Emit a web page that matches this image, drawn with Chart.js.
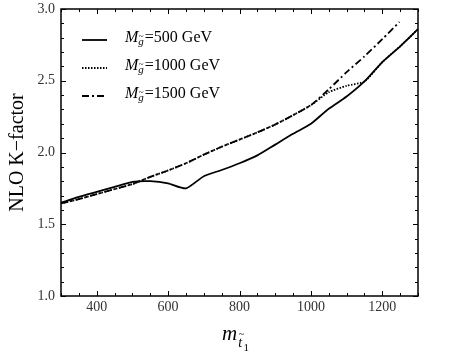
<!DOCTYPE html>
<html><head><meta charset="utf-8">
<script src="https://cdn.jsdelivr.net/npm/chart.js@4"></script>
<style>html,body{margin:0;padding:0;background:#fff}canvas{display:block}</style>
</head><body>
<canvas id="c" width="450" height="361"></canvas>
<script>
// ---- data ----
const mass = [300,350,400,450,500,550,600,650,700,750,800,850,900,950,1000,1050,1100,1150,1200,1250,1300];
const k500 = [1.65,1.69,1.725,1.76,1.795,1.80,1.785,1.75,1.835,1.878,1.925,1.98,2.055,2.13,2.20,2.305,2.39,2.495,2.63,2.74,2.86];
const k1000 = [1.645,1.675,1.71,1.745,1.78,1.83,1.875,1.925,1.985,2.04,2.09,2.14,2.195,2.26,2.33,2.42,2.465,2.495,2.63,2.74,2.86];
const mass1500 = [300,350,400,450,500,550,600,650,700,750,800,850,900,950,1000,1050,1100,1150,1200,1248];
const k1500 = [1.645,1.675,1.71,1.745,1.78,1.83,1.875,1.925,1.985,2.04,2.09,2.14,2.195,2.26,2.33,2.44,2.56,2.67,2.79,2.91];
const gluinoMasses = ['500','1000','1500'];
const xTickValues = [400,600,800,1000,1200];
const yTickValues = [1.0,1.5,2.0,2.5,3.0];
const yTitle = 'NLO K\u2212factor';

const SERIF = '"Liberation Serif","DejaVu Serif",serif';
const dashes = [[], [1.5,1.5], [7,3,2,3]];

function pts(xs, ys){ return xs.map((x,i)=>({x:x, y:ys[i]})); }

const framePlugin = {
  id: 'frame',
  afterDraw(chart){
    const ctx = chart.ctx, a = chart.chartArea;
    const xs = chart.scales.x, ys = chart.scales.y;
    ctx.save();
    ctx.strokeStyle = '#000';
    ctx.lineWidth = 1.5;
    ctx.strokeRect(a.left, a.top, a.right - a.left, a.bottom - a.top);
    ctx.lineWidth = 1;
    for (let v = xs.min; v <= xs.max + 1e-6; v += 50) {
      const major = xTickValues.includes(v);
      const L = major ? 5 : 3;
      const px = Math.round(xs.getPixelForValue(v)) + 0.5;
      ctx.beginPath();
      ctx.moveTo(px, a.bottom); ctx.lineTo(px, a.bottom - L);
      ctx.moveTo(px, a.top); ctx.lineTo(px, a.top + L);
      ctx.stroke();
    }
    for (let i = 0; i <= 20; i++) {
      const v = ys.min + i * 0.1;
      const major = yTickValues.some(t => Math.abs(t - v) < 1e-6);
      const L = major ? 5 : 3;
      const py = Math.round(ys.getPixelForValue(v)) + 0.5;
      ctx.beginPath();
      ctx.moveTo(a.left, py); ctx.lineTo(a.left + L, py);
      ctx.moveTo(a.right, py); ctx.lineTo(a.right - L, py);
      ctx.stroke();
    }
    ctx.fillStyle = '#000';
    ctx.font = '20px ' + SERIF;
    ctx.textAlign = 'center';
    ctx.textBaseline = 'middle';
    ctx.save();
    ctx.translate(18, (a.top + a.bottom) / 2);
    ctx.rotate(-Math.PI / 2);
    ctx.fillText(yTitle, 0, 0);
    ctx.restore();
    ctx.textAlign = 'left';
    ctx.textBaseline = 'alphabetic';
    ctx.font = 'italic 21px ' + SERIF;
    ctx.fillText('m', 222, 340);
    let w = ctx.measureText('m').width;
    ctx.font = 'italic 14px ' + SERIF;
    ctx.fillText('t', 222 + w + 1, 347);
    const tw = ctx.measureText('t').width;
    ctx.font = '10px ' + SERIF;
    ctx.fillText('~', 222 + w + 1.5, 337);
    ctx.font = '11px ' + SERIF;
    ctx.fillText('1', 222 + w + tw + 2.5, 351);
    const rows = [40, 68, 96];
    gluinoMasses.forEach((m, i) => {
      const y = rows[i];
      ctx.save();
      ctx.lineWidth = 1.8;
      ctx.setLineDash(dashes[i]);
      ctx.beginPath(); ctx.moveTo(82, y); ctx.lineTo(107, y); ctx.stroke();
      ctx.restore();
      const base = y + 2;
      let x = 125;
      ctx.font = 'italic 16px ' + SERIF;
      ctx.fillText('M', x, base);
      x += ctx.measureText('M').width;
      ctx.font = 'italic 11px ' + SERIF;
      ctx.fillText('g', x, base + 3);
      ctx.font = '9px ' + SERIF;
      ctx.fillText('~', x + 0.5, base - 3);
      ctx.font = 'italic 11px ' + SERIF;
      x += ctx.measureText('g').width + 1;
      ctx.font = '16px ' + SERIF;
      ctx.fillText('=' + m + ' GeV', x, base);
    });
    ctx.restore();
  }
};

new Chart(document.getElementById('c'), {
  type: 'line',
  data: {
    datasets: [
      { label: 'M=500 GeV', data: pts(mass, k500), borderDash: dashes[0] },
      { label: 'M=1000 GeV', data: pts(mass, k1000), borderDash: dashes[1] },
      { label: 'M=1500 GeV', data: pts(mass1500, k1500), borderDash: dashes[2] }
    ].map(d => Object.assign(d, { borderColor: '#000', borderWidth: 1.8, pointRadius: 0, tension: 0.2, fill: false }))
  },
  options: {
    responsive: false,
    animation: false,
    devicePixelRatio: 1,
    layout: { padding: { top: 9, right: 32, left: 0, bottom: 0 } },
    plugins: { legend: { display: false }, tooltip: { enabled: false } },
    scales: {
      x: {
        type: 'linear', min: 300, max: 1300,
        afterBuildTicks: s => { s.ticks = xTickValues.map(v => ({ value: v })); },
        afterFit: s => { s.height = 65; s.paddingLeft = 0; s.paddingRight = 0; },
        grid: { display: false, drawTicks: false },
        border: { display: false },
        ticks: { padding: 3, color: '#333', font: { family: SERIF, size: 14 }, maxRotation: 0, callback: v => String(v) }
      },
      y: {
        type: 'linear', min: 1, max: 3,
        afterBuildTicks: s => { s.ticks = yTickValues.map(v => ({ value: v })); },
        afterFit: s => { s.width = 61; s.paddingTop = 0; s.paddingBottom = 0; },
        grid: { display: false, drawTicks: false },
        border: { display: false },
        ticks: { padding: 6, color: '#333', font: { family: SERIF, size: 14 }, callback: v => Number(v).toFixed(1) }
      }
    }
  },
  plugins: [framePlugin]
});
</script>
</body></html>
